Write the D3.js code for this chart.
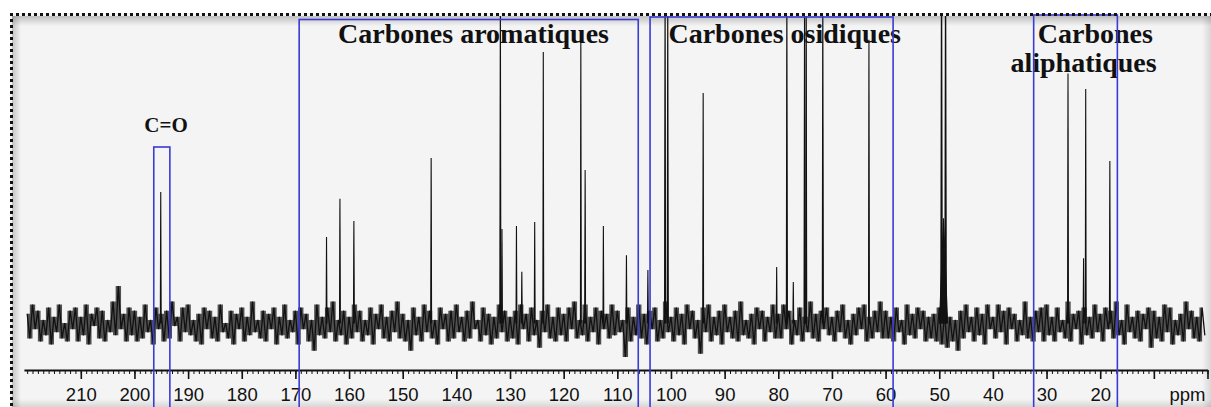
<!DOCTYPE html>
<html><head><meta charset="utf-8">
<script src="https://cdn.jsdelivr.net/npm/d3@7"></script>
<style>html,body{margin:0;padding:0;background:#fff;} svg{display:block}</style>
</head><body>
<svg id="c" width="1211" height="407"></svg>
<script>
// ---- data ----
const tickLabels = [210,200,190,180,170,160,150,140,130,120,110,100,90,80,70,60,50,40,30,20];
const unlabeledTicks = [10, 0];
const peakPpm    = [195.1,164.2,161.7,159.1,144.7,131.8,131.5,128.8,127.8,125.4,123.8,116.8,116.0,112.6,108.3,104.3,101.1,100.6,94.0,80.3,78.4,77.2,75.1,74.8,71.7,63.1,49.57,48.82,49.2,26.0,23.1,22.7,18.2];
const peakHeight = [42.5,27.9,40.3,33.1,53.6,110,30.5,31.5,16.6,32.8,88,92,49.7,31.5,22,17.2,110,110,74.7,18.2,110,13.3,110,110,110,92,130,130,34,81,21,76,52.6];
const peakWidth  = [0.08,0.08,0.08,0.08,0.08,0.1,0.08,0.08,0.08,0.08,0.08,0.08,0.08,0.08,0.08,0.08,0.1,0.1,0.08,0.08,0.1,0.08,0.1,0.1,0.1,0.08,0.14,0.14,0.75,0.08,0.08,0.08,0.08];
// baseline noise, one value every 0.5 ppm starting at 220 ppm
const noiseStartPpm = 220, noiseStepPpm = 0.5;
const noise = [
  3,-5,6,-2,4,-6,1,-4,5,-7,2,-3,6,-5,0,-6,4,-2,5,-6,
  2,-4,6,-7,3,-1,5,-5,4,-6,1,-3,7,-4,12,-2,3,-6,5,-4,
  4,-6,2,-5,6,-3,1,-7,5,-2,3,-6,4,-5,7,-1,2,-6,5,-3,
  6,-4,1,-6,3,-7,5,-2,4,-5,2,-6,6,-3,0,-5,4,-7,3,-2,
  5,-6,2,-4,7,-3,1,-5,4,-6,3,-2,5,-7,2,-4,6,-5,1,-3,
  4,-7,5,-2,3,-6,1,-9,6,-4,2,-5,5,-3,7,-6,1,-4,4,-7,
  2,-5,6,-3,4,-6,1,-4,5,-7,3,-2,6,-5,2,-6,4,-3,7,-5,
  3,-6,1,-9,5,-4,2,-6,6,-3,4,-5,1,-7,5,-2,3,-6,4,-5,
  6,-3,2,-6,4,-5,7,-2,1,-6,5,-4,3,-7,2,-5,6,-3,4,-6,
  2,-5,4,-7,6,-2,3,-6,5,-4,1,-8,4,-3,6,-5,2,-6,5,-4,
  3,-6,5,-2,7,-5,1,-4,6,-6,2,-3,5,-7,4,-2,3,-5,6,-4,
  4,-3,1,-11,5,-6,2,-4,6,-5,3,-7,4,-2,5,-6,1,-5,7,-3,
  2,-6,5,-4,3,-7,6,-2,4,-5,1,-10,5,-3,6,-6,2,-4,4,-7,
  6,-3,2,-5,4,-6,7,-4,1,-5,3,-7,5,-2,4,-6,2,-3,6,-5,
  3,-5,6,-2,4,-7,1,-4,5,-6,2,-3,7,-5,3,-6,4,-2,5,-4,
  2,-6,4,-3,6,-5,1,-7,3,-4,5,-2,6,-6,2,-5,4,-3,7,-5,
  4,-5,2,-6,5,-3,1,-7,6,-4,3,-5,5,-2,4,-6,2,-5,3,-6,
  5,-7,3,-8,2,-6,1,-9,4,-5,6,-3,2,-6,5,-4,3,-7,6,-2,
  2,-5,6,-3,4,-7,5,-2,3,-6,1,-4,7,-5,2,-6,4,-3,5,-6,
  6,-4,2,-6,5,-3,1,-5,7,-6,3,-2,4,-7,5,-4,2,-5,6,-3,
  3,-6,5,-2,4,-5,7,-4,1,-7,6,-3,2,-5,4,-6,3,-2,5,-8,
  4,-5,2,-6,6,-3,5,-7,1,-4,3,-6,7,-2,4,-5,2,-6,5,-4];
const regionNames = ["C=O", "Carbones aromatiques", "Carbones osidiques", "Carbones aliphatiques"];
const regionFrom  = [196.4, 169.3, 103.9, 32.4];
const regionTo    = [193.4, 106.1, 58.6, 16.8];

// ---- layout ----
const W = 1211, H = 407;
const x = d3.scaleLinear().domain([210, 0]).range([80.8, 1207.5]);
const y = d3.scaleLinear().domain([0, 100]).range([323, 15]);
const axisY = 370;
const blue = "#3a3ad6";
const serif = "'Liberation Serif','Times New Roman',serif";
const sans = "'Liberation Sans',Arial,sans-serif";

const svg = d3.select("#c");
const defs = svg.append("defs");
defs.append("clipPath").attr("id","plot").append("rect")
  .attr("x",12).attr("y",16).attr("width",W-12).attr("height",axisY-20);
function grad(id, x1, y1, x2, y2, op) {
  const g = defs.append("linearGradient").attr("id",id).attr("x1",x1).attr("y1",y1).attr("x2",x2).attr("y2",y2);
  g.append("stop").attr("offset",0).attr("stop-color","#000").attr("stop-opacity",op);
  g.append("stop").attr("offset",1).attr("stop-color","#000").attr("stop-opacity",0);
}
grad("shT",0,0,0,1,0.22); grad("shL",0,0,1,0,0.2); grad("shR",1,0,0,0,0.12); grad("shB",0,1,0,0,0.12);

// paper
svg.append("rect").attr("x",10).attr("y",13).attr("width",W-10).attr("height",H-13).attr("fill","#f4f4f4");
svg.append("rect").attr("x",12).attr("y",16).attr("width",W-12).attr("height",10).attr("fill","url(#shT)");
svg.append("rect").attr("x",12).attr("y",16).attr("width",9).attr("height",H-16).attr("fill","url(#shL)");
svg.append("rect").attr("x",W-9).attr("y",16).attr("width",9).attr("height",H-16).attr("fill","url(#shR)");
svg.append("rect").attr("x",12).attr("y",H-8).attr("width",W-12).attr("height",8).attr("fill","url(#shB)");

const plot = svg.append("g").attr("clip-path","url(#plot)");

// noise trace: filled span between consecutive samples + the trace itself
const pts = noise.map((v,k) => [noiseStartPpm - k*noiseStepPpm, v]);
const spans = pts.slice(0, -1).map((d,k) => [d[0], Math.min(d[1], pts[k+1][1]), Math.max(d[1], pts[k+1][1])]);
plot.append("path")
  .attr("d", d3.area().x(d=>x(d[0])).y0(d=>y(d[1])).y1(d=>y(d[2])).curve(d3.curveStepAfter)(spans))
  .attr("fill","#111").attr("opacity",0.72);
plot.append("path")
  .attr("d", d3.line().x(d=>x(d[0])).y(d=>y(d[1]))(pts))
  .attr("fill","none").attr("stroke","#111").attr("stroke-width",1.3);

// peaks
peakPpm.forEach((p,i) => {
  const h = peakHeight[i], w = peakWidth[i];
  const d = `M${x(p+w)},${y(0)}L${x(p)},${y(h)}L${x(p-w)},${y(0)}Z`;
  plot.append("path").attr("d", d).attr("fill","#111").attr("stroke","#111").attr("stroke-width",1.1);
});

// axis
const xa = x.copy().domain([220.6, 0]).range([x(220.6), x(0)]);
const minor = d3.range(0, 221);
const gMinor = svg.append("g").attr("transform",`translate(0,${axisY})`)
  .call(d3.axisBottom(xa).tickValues(minor).tickSize(4).tickSizeOuter(0).tickFormat(""));
gMinor.select(".domain").attr("stroke","#111").attr("stroke-width",2.2);
gMinor.selectAll(".tick line").attr("stroke","#111").attr("stroke-width",1);
const major = tickLabels.concat(unlabeledTicks);
const gMajor = svg.append("g").attr("transform",`translate(0,${axisY})`)
  .call(d3.axisBottom(xa).tickValues(major).tickSize(9).tickSizeOuter(0).tickPadding(9)
    .tickFormat(d => tickLabels.includes(d) ? d : ""));
gMajor.select(".domain").remove();
gMajor.selectAll(".tick line").attr("stroke","#111").attr("stroke-width",1.6);
gMajor.selectAll(".tick text").attr("font-family",sans).attr("font-size",18.5).attr("fill","#111");
svg.append("text").attr("x",x(0)-2).attr("y",401).attr("text-anchor","end")
  .attr("font-family",sans).attr("font-size",18.5).attr("fill","#111").text("ppm");

// region labels
const lab = svg.append("g").attr("font-family",serif).attr("font-weight","bold").attr("fill","#111").attr("text-anchor","middle");
lab.append("text").attr("x",x(194.1)).attr("y",132).attr("font-size",21).text(regionNames[0]);
lab.append("text").attr("x",x(136.8)).attr("y",43).attr("font-size",28).text(regionNames[1]);
lab.append("text").attr("x",x(78.8)).attr("y",43).attr("font-size",28).text(regionNames[2]);
const aliph = regionNames[3].split(" ");
lab.append("text").attr("x",x(20.9)).attr("y",43).attr("font-size",28).text(aliph[0]);
lab.append("text").attr("x",x(23.1)).attr("y",72).attr("font-size",28).text(aliph[1]);

// region boxes
const boxTop = [147, 19.5, 17, 15];
regionFrom.forEach((f,i) => {
  svg.append("rect").attr("x",x(f)).attr("y",boxTop[i])
    .attr("width",x(regionTo[i])-x(f)).attr("height",H+10-boxTop[i])
    .attr("fill","none").attr("stroke",blue).attr("stroke-width",1.6);
});

// dotted frame
svg.append("line").attr("x1",10).attr("x2",W).attr("y1",14.5).attr("y2",14.5)
  .attr("stroke","#111").attr("stroke-width",3).attr("stroke-dasharray","3,3");
svg.append("line").attr("x1",11.5).attr("x2",11.5).attr("y1",13).attr("y2",H)
  .attr("stroke","#111").attr("stroke-width",3).attr("stroke-dasharray","3,3");
</script>
</body></html>
